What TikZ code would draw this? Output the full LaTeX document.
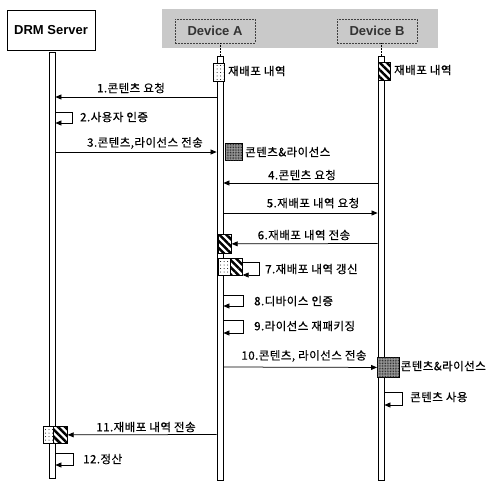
\documentclass[tikz,border=0pt]{standalone}
\usepackage{fontspec}
\setmainfont{Liberation Sans}
\newfontfamily\kr[LetterSpace=4, FakeBold=0.5]{Noto Sans CJK KR}
\usetikzlibrary{arrows.meta,patterns,patterns.meta}
\tikzset{
  lbl/.style={font=\kr\fontsize{11.5}{13}\selectfont, inner sep=0pt},
  msg/.style={line width=0.75pt, -{Triangle[length=6pt,width=5pt]}},
  loopmsg/.style={line width=0.65pt, -{Triangle[length=6pt,width=5pt]}},
  life/.style={draw, line width=0.8pt, fill=white, inner sep=0pt, anchor=north, minimum width=6pt},
  box/.style 2 args={minimum width=#1, minimum height=#2, anchor=north west, inner sep=0pt},
  hatchbox/.style={draw, line width=0.7pt, fill=white, postaction={pattern={Lines[angle=-45,distance=5pt,line width=2.5pt]}}},
  dotbox/.style={draw, line width=0.6pt, fill=white, postaction={pattern={Dots[distance=3.5pt,radius=0.5pt]}}},
  graybox/.style={draw, line width=0.9pt, fill=gray!75, postaction={pattern={Dots[distance=1.6pt,radius=0.55pt]}, pattern color=black!85}},
  devbox/.style={draw=black!75, dash pattern=on 2pt off 1pt, line width=0.7pt, fill=gray!42,
    minimum width=80pt, minimum height=24pt, font=\bfseries\fontsize{13}{15}\selectfont, text=black!80},
}
\begin{document}
\begin{tikzpicture}[x=1pt,y=-1pt]
\useasboundingbox (0,0) rectangle (486,482);
% grey band behind devices
\fill[gray!42] (162,9) rectangle (438,48);
% headers
\node[draw, line width=0.8pt, fill=white, minimum width=88pt, minimum height=40pt,
      font=\bfseries\fontsize{13}{15}\selectfont] (S) at (51,30) {DRM Server};
\node[devbox] (A) at (215,31) {Device A};
\node[devbox] (B) at (377,31) {Device B};
% lifelines
\node[life, minimum height=426pt] (Ls) at (52,52) {};
\node[life, minimum height=424pt] (La) at (220,56) {};
\node[life, minimum height=424pt] (Lb) at (381,56) {};
\draw[densely dotted, line width=0.5pt] (A.south -| La.center) -- (La.north);
\draw[densely dotted, line width=0.5pt] (B.south -| Lb.center) -- (Lb.north);
% state boxes
\node[dotbox, box={11pt}{18pt}] (dA) at (213,63) {};
\node[hatchbox, box={12pt}{18pt}] (hB) at (378,62) {};
\node[lbl, anchor=west] (tA0) at (228,71) {재배포 내역};
\node[lbl, anchor=west] (tB0) at (394,70) {재배포 내역};
% 1
\draw[msg] (La.west |- 0,97) -- (Ls.east |- 0,97);
\node[lbl] (t1) at (131,88) {1.콘텐츠 요청};
% 2
\draw[loopmsg] (Ls.east |- 0,112) -- ++(17,0) -- ++(0,11) -- (Ls.east |- 0,123);
\node[lbl, anchor=west] (t2) at (80,117) {2.사용자 인증};
% 3
\draw[msg] (Ls.east |- 0,152) -- (La.west |- 0,152);
\node[lbl] (t3) at (145,143) {3.콘텐츠,라이선스 전송};
\node[graybox, box={17pt}{17pt}] (gA) at (225,143) {};
\node[lbl, anchor=west] (tAc) at (245,152) {콘텐츠\&라이선스};
% 4
\draw[msg] (Lb.west |- 0,183) -- (La.east |- 0,183);
\node[lbl] (t4) at (302,175) {4.콘텐츠 요청};
% 5
\draw[msg] (La.east |- 0,213) -- (Lb.west |- 0,213);
\node[lbl] (t5) at (313,203) {5.재배포 내역 요청};
% 6
\node[hatchbox, box={13pt}{19pt}] (h6) at (218,234) {};
\draw[msg] (Lb.west |- 0,243.5) -- (h6.east);
\node[lbl] (t6) at (304,235) {6.재배포 내역 전송};
% 7
\node[dotbox, box={12pt}{17pt}] (d7) at (218,258) {};
\node[hatchbox, box={12pt}{17pt}] (h7) at (230,258) {};
\draw[loopmsg] (h7.east |- 0,262) -- ++(17,0) -- ++(0,13) -- (h7.east |- 0,275);
\node[lbl, anchor=west] (t7) at (265,269) {7.재배포 내역 갱신};
% 8
\draw[loopmsg] (La.east |- 0,295) -- ++(20,0) -- ++(0,11) -- (La.east |- 0,306);
\node[lbl, anchor=west] (t8) at (254,301) {8.디바이스 인증};
% 9
\draw[loopmsg] (La.east |- 0,320) -- ++(20,0) -- ++(0,13) -- (La.east |- 0,333);
\node[lbl, anchor=west] (t9) at (254,326) {9.라이선스 재패키징};
% 10
\node[graybox, box={22pt}{20pt}] (gB) at (377,357) {};
\draw[msg] (La.east |- 0,367) -- (gB.west);
\node[lbl] (t10) at (304,356) {10.콘텐츠, 라이선스 전송};
\node[lbl, anchor=west] (tBc) at (400.5,366) {콘텐츠\&라이선스};
% use
\draw[loopmsg] (Lb.east |- 0,392) -- ++(18,0) -- ++(0,13) -- (Lb.east |- 0,405);
\node[lbl, anchor=west] (tBu) at (410,397) {콘텐츠 사용};
% 11
\node[dotbox, box={10pt}{17pt}] (d11) at (43,426) {};
\node[hatchbox, box={14pt}{17pt}] (h11) at (53,426) {};
\draw[msg] (La.west |- 0,434.5) -- (h11.east);
\node[lbl] (t11) at (146,427) {11.재배포 내역 전송};
% 12
\draw[loopmsg] (Ls.east |- 0,453) -- ++(18,0) -- ++(0,12) -- (Ls.east |- 0,465);
\node[lbl, anchor=west] (t12) at (83,459) {12.정산};
\end{tikzpicture}
\end{document}
